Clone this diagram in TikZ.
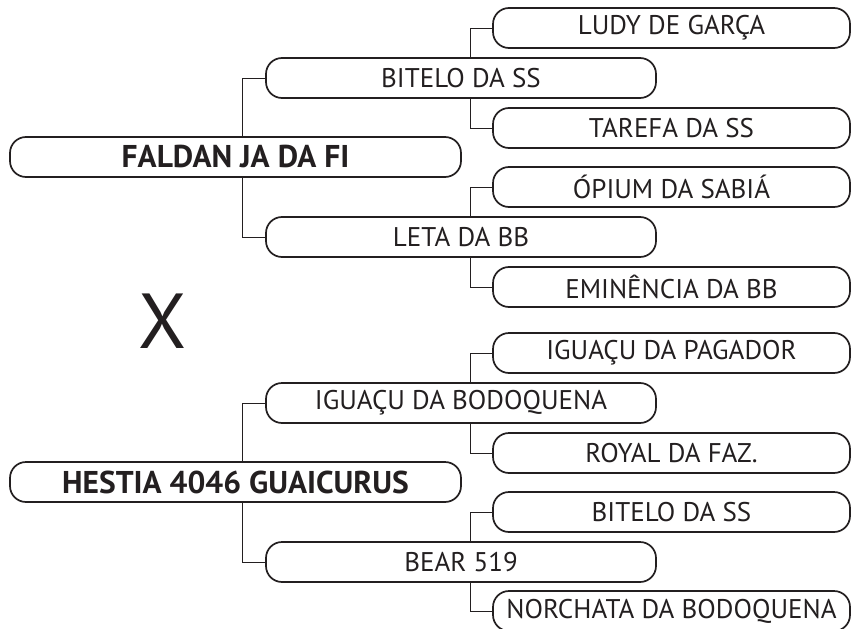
\documentclass[tikz,border=0pt]{standalone}
\usepackage{fontspec}
\setmainfont{PT Sans}
\usetikzlibrary{backgrounds}
\definecolor{ink}{HTML}{231F20}
\tikzset{
  box/.style={draw=ink, line width=1.7pt, fill=white, rounded corners=16pt, minimum height=40pt, inner sep=0pt, text=ink},
  rootbox/.style={box, minimum width=451pt, font=\bfseries\fontsize{31.5}{34}\selectfont},
  midbox/.style={box, minimum width=390pt, font=\fontsize{27}{30}\selectfont},
  leafbox/.style={box, minimum width=357pt, font=\fontsize{27}{30}\selectfont},
  link/.style={draw=ink, line width=0.9pt}
}
\begin{document}
\begin{tikzpicture}[x=1pt,y=-1pt]
\useasboundingbox (0,0) rectangle (852,629);
% tree 1
\node[rootbox] (r1) at (235.5,157) {FALDAN JA DA FI};
\node[midbox] (m1) at (461,78) {BITELO DA SS};
\node[midbox] (m2) at (461,237) {LETA DA BB};
\node[leafbox] (l1) at (671.5,28) {LUDY DE GARÇA};
\node[leafbox] (l2) at (671.5,128) {TAREFA DA SS};
\node[leafbox] (l3) at (671.5,187) {ÓPIUM DA SABIÁ};
\node[leafbox] (l4) at (671.5,287) {EMINÊNCIA DA BB};
% cross
\node[text=ink, font=\fontsize{78}{80}\selectfont, inner sep=0pt] (x) at (162.5,321) {X};
% tree 2
\node[rootbox] (r2) at (235.5,482) {HESTIA 4046 GUAICURUS};
\node[midbox] (m3) at (461,403) {IGUAÇU DA BODOQUENA};
\node[midbox] (m4) at (461,562) {BEAR 519};
\node[leafbox] (l5) at (671.5,353) {IGUAÇU DA PAGADOR};
\node[leafbox] (l6) at (671.5,453) {ROYAL DA FAZ.};
\node[leafbox] (l7) at (671.5,512) {BITELO DA SS};
\node[leafbox] (l8) at (671.5,611) {NORCHATA DA BODOQUENA};
\begin{pgfonlayer}{background}
\draw[link] (m1.west) -- ([xshift=-23pt]m1.west) |- (m2.west);
\draw[link] (l1.west) -- ([xshift=-22pt]l1.west) |- (l2.west);
\draw[link] (l3.west) -- ([xshift=-22pt]l3.west) |- (l4.west);
\draw[link] (m3.west) -- ([xshift=-23pt]m3.west) |- (m4.west);
\draw[link] (l5.west) -- ([xshift=-22pt]l5.west) |- (l6.west);
\draw[link] (l7.west) -- ([xshift=-22pt]l7.west) |- (l8.west);
\end{pgfonlayer}
\end{tikzpicture}
\end{document}
